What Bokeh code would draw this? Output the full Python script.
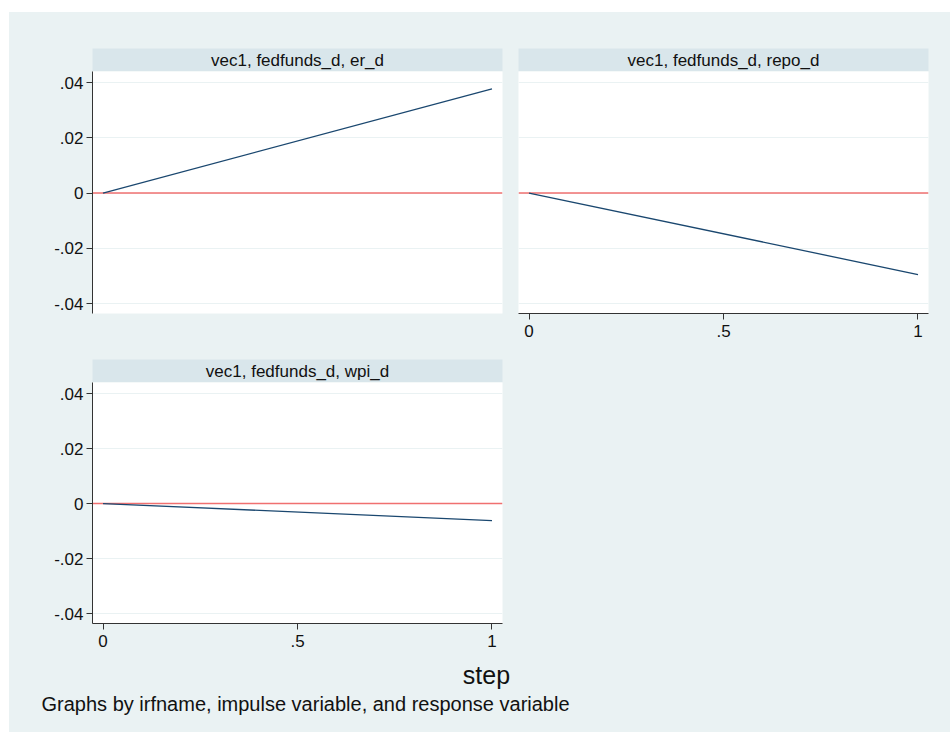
from bokeh.plotting import figure
from bokeh.layouts import column, row
from bokeh.models import Range1d, FixedTicker, Span, Spacer, ColumnDataSource
from bokeh.core.properties import value
from bokeh.embed import file_html
from bokeh.resources import INLINE

# ---- data ----
steps = [0, 1]
er_d = [0.0, 0.0377]
repo_d = [0.0, -0.0295]
wpi_d = [0.0, -0.0062]
panel_titles = ["vec1, fedfunds_d, er_d", "vec1, fedfunds_d, repo_d", "vec1, fedfunds_d, wpi_d"]
zero_line = 0
y_ticks = [-0.04, -0.02, 0, 0.02, 0.04]
y_tick_labels = ["-.04", "-.02", "0", ".02", ".04"]
x_ticks = [0, 0.5, 1]
x_tick_labels = ["0", ".5", "1"]
x_title = "step"
note = "Graphs by irfname, impulse variable, and response variable"

# ---- style ----
BG = "#EAF2F3"
BAND = "#D9E6EB"
NAVY = "#1A476F"
RED = "#F07070"
AXIS = "#333333"
FONT = "Liberation Sans"
BGSTYLE = {"background-color": BG}

X0, X1 = -0.027, 1.027
Y0, Y1 = -0.0436, 0.0440


def band(title, left, right, top):
    p = figure(frame_width=410, frame_height=23, min_border_left=left, min_border_right=right,
               min_border_top=top, min_border_bottom=0, x_range=Range1d(0, 1), y_range=Range1d(0, 1),
               x_axis_type=None, y_axis_type=None, toolbar_location=None, output_backend="svg",
               title=None, styles=BGSTYLE)
    p.background_fill_color = BAND
    p.border_fill_color = BG
    p.outline_line_color = None
    p.xgrid.visible = False
    p.ygrid.visible = False
    p.text(x=[0.5], y=[0.5], text=[title], text_align="center", text_baseline="middle",
           text_font=value(FONT), text_font_size="17px", text_color="#111111")
    return p


def panel(yvals, left, right, fh, bottom, show_x, show_y):
    p = figure(frame_width=410, frame_height=fh, min_border_left=left, min_border_right=right,
               min_border_top=0, min_border_bottom=bottom,
               x_range=Range1d(X0, X1), y_range=Range1d(Y0, Y1),
               toolbar_location=None, output_backend="svg", title=None, styles=BGSTYLE)
    p.background_fill_color = "white"
    p.border_fill_color = BG
    p.outline_line_color = None
    p.xgrid.visible = False
    p.ygrid.ticker = FixedTicker(ticks=y_ticks)
    p.ygrid.grid_line_color = BG
    p.ygrid.grid_line_width = 1

    for ax in (p.xaxis[0], p.yaxis[0]):
        ax.axis_line_color = AXIS
        ax.major_tick_line_color = AXIS
        ax.major_tick_out = 6
        ax.major_tick_in = 0
        ax.minor_tick_line_color = None
        ax.major_label_text_font = FONT
        ax.major_label_text_font_size = "17px"
        ax.major_label_text_color = "#111111"
    p.yaxis.ticker = FixedTicker(ticks=y_ticks)
    p.yaxis.major_label_overrides = {t: l for t, l in zip(y_ticks, y_tick_labels)}
    p.yaxis.major_label_standoff = 3
    p.xaxis.ticker = FixedTicker(ticks=x_ticks)
    p.xaxis.major_label_overrides = {t: l for t, l in zip(x_ticks, x_tick_labels)}
    p.xaxis.major_label_standoff = 5
    p.xaxis.visible = show_x
    p.yaxis.visible = show_y

    p.add_layout(Span(location=zero_line, dimension="width", line_color=RED, line_width=1.6,
                      level="underlay"))
    src = ColumnDataSource(dict(step=steps, irf=yvals))
    p.line("step", "irf", source=src, line_color=NAVY, line_width=1.3)
    return p


# left column: 83 + 410 + 8 = 501 ; right column: 8 + 410 + 22 = 440
b1 = band(panel_titles[0], 83, 8, 36)
p1 = panel(er_d, 83, 8, 242, 37, False, True)
b2 = band(panel_titles[1], 8, 22, 36)
p2 = panel(repo_d, 8, 22, 242, 37, True, False)
b3 = band(panel_titles[2], 83, 8, 9)
p3 = panel(wpi_d, 83, 8, 241, 33, True, True)

filler = figure(width=440, height=32 + 274, x_axis_type=None, y_axis_type=None,
                toolbar_location=None, output_backend="svg", title=None, min_border=0,
                styles=BGSTYLE)
filler.background_fill_color = BG
filler.border_fill_color = BG
filler.outline_line_color = None
filler.xgrid.visible = False
filler.ygrid.visible = False

FOOT_H = 76
footer = figure(frame_width=941, frame_height=FOOT_H, min_border=0, x_range=Range1d(0, 941),
                y_range=Range1d(0, FOOT_H), x_axis_type=None, y_axis_type=None,
                toolbar_location=None, output_backend="svg", title=None, styles=BGSTYLE)
footer.background_fill_color = BG
footer.border_fill_color = BG
footer.outline_line_color = None
footer.xgrid.visible = False
footer.ygrid.visible = False
footer.text(x=[477], y=[FOOT_H - 18], text=[x_title], text_align="center", text_baseline="middle",
            text_font=value(FONT), text_font_size="25px", text_color="#111111")
footer.text(x=[32], y=[FOOT_H - 47], text=[note], text_align="left", text_baseline="middle",
            text_font=value(FONT), text_font_size="20px", text_color="#111111")

main = column(
    row(column(b1, p1, spacing=0, styles=BGSTYLE), column(b2, p2, spacing=0, styles=BGSTYLE),
        spacing=0, styles=BGSTYLE),
    row(column(b3, p3, spacing=0, styles=BGSTYLE), filler, spacing=0, styles=BGSTYLE),
    footer,
    spacing=0,
    styles=BGSTYLE,
)

layout = column(
    Spacer(width=950, height=12),
    row(Spacer(width=9, height=720), main, spacing=0),
    spacing=0,
)

open("out.html", "w").write(file_html(layout, INLINE))
